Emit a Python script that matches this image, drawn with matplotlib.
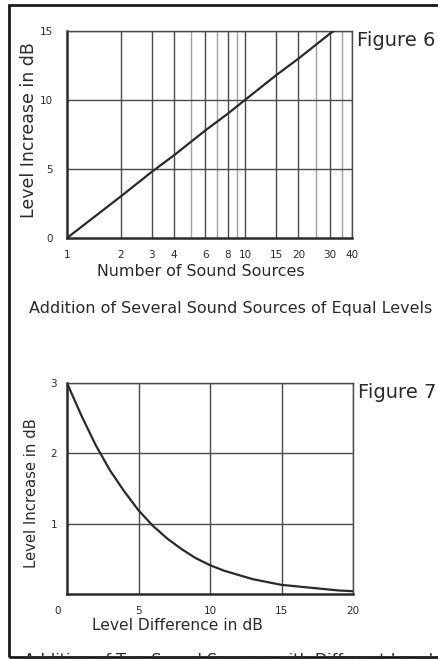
import numpy as np
import matplotlib
matplotlib.use("Agg")
import matplotlib.pyplot as plt
from matplotlib.patches import Rectangle
from matplotlib.transforms import ScaledTranslation

plt.rcParams['font.family'] = ['DejaVu Sans']

# Figure 6: level increase vs number of equal sources
n_sources = [1, 2, 3, 4, 6, 8, 10, 15, 20, 30, 31.6]
n_increase = [0, 3.0, 4.8, 6.0, 7.8, 9.0, 10.0, 11.8, 13.0, 14.8, 15.0]
x6_ticks = [1, 2, 3, 4, 6, 8, 10, 15, 20, 30, 40]
x6_minor = [5, 7, 9, 25, 35]
y6_ticks = [0, 5, 10, 15]

# Figure 7: level increase vs level difference of two sources
diff_db = [0, 1, 2, 3, 4, 5, 6, 7, 8, 9, 10, 11, 12, 13, 14, 15, 16, 17, 18, 19, 20]
diff_increase = [3.0, 2.54, 2.12, 1.76, 1.46, 1.19, 0.97, 0.79, 0.64, 0.51, 0.41,
                 0.33, 0.27, 0.21, 0.17, 0.13, 0.11, 0.09, 0.07, 0.05, 0.04]
x7_ticks = [0, 5, 10, 15, 20]
y7_ticks = [1, 2, 3]

ink = '#2a2a2a'
grid_dark = '#4a4a4a'
grid_light = '#a0a0a0'

fig = plt.figure(figsize=(4.38, 6.59), dpi=100)
W, H = 438, 659

def px(x, y):
    return x / W, 1 - y / H

# ---- Figure 6 ----
ax1 = fig.add_axes([67 / W, 1 - 238 / H, (352 - 67) / W, (238 - 31) / H])
ax1.set_xscale('log')
ax1.set_xlim(1, 40)
ax1.set_ylim(0, 15)
for v in x6_ticks[1:]:
    ax1.axvline(v, color=grid_dark, lw=1.0, zorder=1)
for v in x6_minor:
    ax1.axvline(v, color=grid_light, lw=1.0, zorder=1)
for v in y6_ticks[1:]:
    ax1.axhline(v, color=grid_dark, lw=1.0, zorder=1)
ax1.plot(n_sources, n_increase, color=ink, lw=1.6, zorder=3)
ax1.set_xticks(x6_ticks)
ax1.set_xticklabels([str(t) for t in x6_ticks])
ax1.xaxis.set_minor_locator(matplotlib.ticker.NullLocator())
ax1.set_yticks(y6_ticks)
ax1.tick_params(length=0, labelsize=7.5, colors=ink)
ax1.tick_params(axis='x', pad=9)
ax1.tick_params(axis='y', pad=10)

# ---- Figure 7 ----
ax2 = fig.add_axes([67 / W, 1 - 594 / H, (353 - 67) / W, (594 - 383) / H])
ax2.set_xlim(0, 20)
ax2.set_ylim(0, 3)
for v in x7_ticks[1:]:
    ax2.axvline(v, color=grid_dark, lw=1.0, zorder=1)
for v in y7_ticks:
    ax2.axhline(v, color=grid_dark, lw=1.0, zorder=1)
ax2.plot(diff_db, diff_increase, color=ink, lw=1.6, zorder=3)
ax2.set_xticks(x7_ticks)
ax2.set_yticks(y7_ticks)
ax2.tick_params(length=0, labelsize=7.5, colors=ink)
ax2.tick_params(axis='x', pad=9)
ax2.tick_params(axis='y', pad=7)
# the zero label sits left of the corner
zero_lbl = ax2.get_xticklabels()[0]
zero_lbl.set_transform(zero_lbl.get_transform() +
                       ScaledTranslation(-0.09, 0, fig.dpi_scale_trans))

for ax in (ax1, ax2):
    for side in ('top', 'right'):
        ax.spines[side].set_color(grid_dark)
        ax.spines[side].set_linewidth(1.0)
    for side in ('left', 'bottom'):
        ax.spines[side].set_color(ink)
        ax.spines[side].set_linewidth(1.8)

# labels and captions
fig.text(*px(29, 130), 'Level Increase in dB', rotation=90, ha='center', va='center',
         fontsize=12.5, color=ink)
fig.text(*px(201, 271), 'Number of Sound Sources', ha='center', va='center',
         fontsize=11.4, color=ink)
fig.text(*px(357, 40), 'Figure 6', ha='left', va='center', fontsize=14, color=ink)
fig.text(*px(231, 309), 'Addition of Several Sound Sources of Equal Levels',
         ha='center', va='center', fontsize=11.5, color=ink)

fig.text(*px(32, 493), 'Level Increase in dB', rotation=90, ha='center', va='center',
         fontsize=10.7, color=ink)
fig.text(*px(177, 626), 'Level Difference in dB', ha='center', va='center',
         fontsize=11.2, color=ink)
fig.text(*px(358, 393), 'Figure 7', ha='left', va='center', fontsize=14, color=ink)
fig.text(*px(24, 653), 'Addition of Two Sound Sources with Different Levels',
         ha='left', va='top', fontsize=11.5, color=ink)

# outer frame
fig.patches.append(Rectangle(px(9, 657), (W + 10 - 9) / W, (657 - 5) / H,
                             transform=fig.transFigure, fill=False,
                             edgecolor='#1a1a1a', lw=2.0))

fig.savefig('out.png', dpi=100)
